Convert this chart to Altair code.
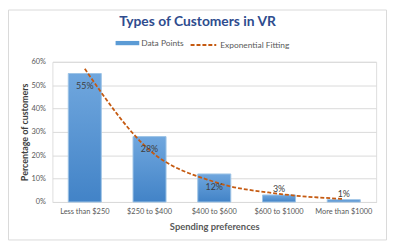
import altair as alt
import pandas as pd

categories = ["Less than $250", "$250 to $400", "$400 to $600", "$600 to $1000", "More than $1000"]
values = [55, 28, 12, 3, 1]
labels = ["55%", "28%", "12%", "3%", "1%"]
fit_values = [57, 22.2, 8.6, 3.5, 1.3]
y_ticks = [0, 0.1, 0.2, 0.3, 0.4, 0.5, 0.6]

df = pd.DataFrame({
    "cat": categories,
    "value": [v / 100 for v in values],
    "label": labels,
    "series": ["Data Points"] * len(categories),
})
fit = pd.DataFrame({
    "cat": categories,
    "fit": [v / 100 for v in fit_values],
    "series": ["Exponential Fitting"] * len(categories),
})

FONT = "Lato"
BLUE = "#5B9BD5"
ORANGE = "#C55A11"

x = alt.X(
    "cat:N", sort=categories, title="Spending preferences",
    scale=alt.Scale(paddingInner=0.49, paddingOuter=0.245),
    axis=alt.Axis(labelAngle=0, ticks=False, domainColor="#D9D9D9", labelFontSize=7.5,
                  labelColor="#595959", labelPadding=6, titleFontSize=9.5, titleColor="#595959",
                  titleFontWeight="bold", titlePadding=6, labelFont=FONT, titleFont=FONT,
                  labelOverlap=False),
)
y_scale = alt.Scale(domain=[0, 0.6], nice=False)
y_axis = alt.Axis(format=".0%", values=y_ticks, ticks=False, domain=False,
                  gridColor="#D9D9D9", labelFontSize=7.5, labelColor="#595959", labelPadding=7,
                  title="Percentage of customers", titleFontSize=9, titleColor="#404040",
                  titleFontWeight="bold", titlePadding=2, labelFont=FONT, titleFont=FONT,
                  labelOverlap=False)

W, H = 328, 142

frame = alt.Chart(pd.DataFrame({"a": [0]})).mark_rect(
    filled=False, stroke="#D9D9D9", strokeWidth=1
).encode(
    x=alt.value(-44.5), x2=alt.value(W + 10.5), y=alt.value(-52.5), y2=alt.value(H + 38.5)
)

bars = alt.Chart(df).mark_bar(
    color=alt.Gradient(gradient="linear", x1=0, y1=0, x2=0, y2=1,
                       stops=[alt.GradientStop(offset=0, color="#70A7DE"),
                              alt.GradientStop(offset=1, color="#4283C7")]),
    stroke="#9DC3E6", strokeWidth=1,
).encode(x=x, y=alt.Y("value:Q", scale=y_scale, axis=y_axis))

bar_legend = alt.Chart(df).mark_bar(fillOpacity=0, strokeOpacity=0).encode(
    x=x, y=alt.Y("value:Q", scale=y_scale, axis=y_axis),
    fill=alt.Fill("series:N", scale=alt.Scale(domain=["Data Points"], range=[BLUE]),
                  legend=alt.Legend(title=None, orient="none", legendX=64, legendY=-31,
                                    symbolType="M-1,-0.18H1V0.18H-1Z", symbolSize=576,
                                    symbolOpacity=1, symbolFillColor=BLUE, symbolStrokeWidth=0,
                                    labelFont=FONT, labelFontSize=8.5, labelColor="#595959",
                                    labelOffset=2, padding=0)),
)

line = alt.Chart(fit).mark_line(color=ORANGE, strokeWidth=1.8, interpolate="monotone").encode(
    x=x, y=alt.Y("fit:Q", scale=y_scale, axis=y_axis),
    strokeDash=alt.StrokeDash("series:N", scale=alt.Scale(domain=["Exponential Fitting"], range=[[4, 2]]),
                              legend=alt.Legend(title=None, orient="none", legendX=139, legendY=-31,
                                                symbolType="stroke", symbolSize=676,
                                                symbolStrokeColor=ORANGE, symbolStrokeWidth=2,
                                                labelFont=FONT, labelFontSize=8.5, labelColor="#595959",
                                                labelOffset=3, padding=0)),
)

text_in = alt.Chart(df).transform_filter("datum.value >= 0.1").mark_text(
    dy=13, baseline="middle", fontSize=9, color="#404040", font=FONT
).encode(x=x, y=alt.Y("value:Q", scale=y_scale, axis=y_axis), text="label:N")

text_out = alt.Chart(df).transform_filter("datum.value < 0.1").mark_text(
    dy=-6, baseline="middle", fontSize=9, color="#404040", font=FONT
).encode(x=x, y=alt.Y("value:Q", scale=y_scale, axis=y_axis), text="label:N")

chart = alt.layer(frame, bars, bar_legend, line, text_in, text_out).resolve_scale(
    fill="independent", strokeDash="independent"
).properties(
    width=W, height=H,
    padding={"left": 45, "top": 53, "right": 11, "bottom": 39},
    autosize=alt.AutoSizeParams(type="none"),
    title=alt.TitleParams("Types of Customers in VR", font=FONT, fontSize=14, fontWeight="bold",
                          color="#2E4C8E", anchor="middle", frame="bounds", offset=-20),
).configure_view(stroke=None).configure(background="white")

chart.save("out.html", embed_options={"renderer": "svg", "actions": False})
